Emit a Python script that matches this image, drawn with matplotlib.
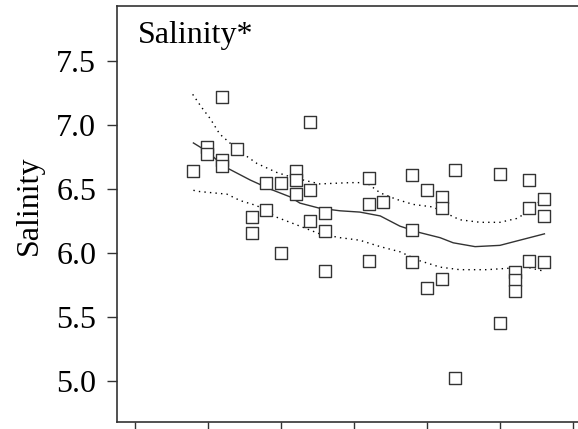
import matplotlib
matplotlib.use("Agg")
import matplotlib.pyplot as plt

# sampling position (axis units) and salinity of each sample
sample_pos = [0.80, 0.99, 0.99, 1.19, 1.19, 1.19, 1.40, 1.60, 1.60, 1.80,
              1.80, 2.00, 2.00, 2.21, 2.21, 2.21, 2.40, 2.40, 2.40, 2.60,
              2.60, 2.60, 3.21, 3.21, 3.21, 3.40, 3.80, 3.80, 3.80, 4.00,
              4.00, 4.20, 4.20, 4.20, 4.39, 4.39, 5.00, 5.00, 5.20, 5.20,
              5.20, 5.40, 5.40, 5.40, 5.61, 5.61, 5.61]
salinity = [6.64, 6.83, 6.77, 7.22, 6.73, 6.68, 6.81, 6.28, 6.16, 6.55,
            6.34, 6.55, 6.00, 6.64, 6.57, 6.46, 7.02, 6.49, 6.25, 6.31,
            6.17, 5.86, 6.59, 6.38, 5.94, 6.40, 6.61, 6.18, 5.93, 6.49,
            5.73, 6.44, 6.35, 5.80, 6.65, 5.02, 6.62, 5.45, 5.85, 5.79,
            5.70, 6.57, 6.35, 5.94, 6.42, 6.29, 5.93]

# smoothed trend and its confidence band
fit_x = [0.80, 1.00, 1.21, 1.58, 1.85, 2.12, 2.26, 2.53, 2.81, 3.08, 3.36,
         3.63, 3.90, 4.18, 4.36, 4.66, 5.00, 5.27, 5.61]
fit_y = [6.86, 6.79, 6.68, 6.57, 6.50, 6.44, 6.39, 6.35, 6.33, 6.32, 6.29,
         6.21, 6.16, 6.12, 6.08, 6.05, 6.06, 6.10, 6.15]
upper_x = [0.79, 0.91, 1.03, 1.16, 1.42, 1.67, 1.94, 2.16, 2.53, 2.95, 3.17,
           3.36, 3.58, 3.81, 4.08, 4.45, 4.73, 5.00, 5.23, 5.41, 5.62]
upper_y = [7.24, 7.14, 7.05, 6.93, 6.80, 6.70, 6.63, 6.59, 6.54, 6.55, 6.55,
           6.47, 6.42, 6.38, 6.36, 6.26, 6.24, 6.24, 6.27, 6.33, 6.45]
lower_x = [0.80, 0.89, 1.26, 1.44, 1.67, 1.94, 2.17, 2.53, 2.81, 3.08, 3.36,
           3.63, 3.90, 4.18, 4.45, 4.82, 5.09, 5.37, 5.59]
lower_y = [6.49, 6.48, 6.46, 6.41, 6.37, 6.28, 6.23, 6.15, 6.12, 6.10, 6.05,
           6.01, 5.94, 5.89, 5.87, 5.87, 5.88, 5.89, 5.86]

y_ticks = [5.0, 5.5, 6.0, 6.5, 7.0, 7.5]
x_ticks = [0, 1, 2, 3, 4, 5, 6]

plt.rcParams["font.family"] = ["Liberation Serif", "DejaVu Serif"]

fig = plt.figure(figsize=(5.78, 4.29), dpi=100)
ax = fig.add_axes([117 / 578, 7 / 429, 461 / 578, 416 / 429])

ax.plot(fit_x, fit_y, color="#333333", lw=1.0)
ax.plot(upper_x, upper_y, color="black", lw=1.0, ls=(0, (1, 3)))
ax.plot(lower_x, lower_y, color="black", lw=1.0, ls=(0, (1, 3)))
ax.scatter(sample_pos, salinity, marker="s", s=80, facecolors="white",
           edgecolors="#333333", linewidths=1.0, zorder=3)

ax.set_xlim(-0.247, 6.07)
ax.set_ylim(4.68, 7.93)
ax.set_yticks(y_ticks)
ax.set_yticklabels([f"{t:.1f}" for t in y_ticks], fontsize=23)
ax.set_xticks(x_ticks)
ax.set_xticklabels([])
ax.tick_params(axis="y", length=7, width=1.0, pad=8, color="#333333")
ax.tick_params(axis="x", length=7, width=1.0, color="#333333")

ax.spines["right"].set_visible(False)
for side in ["left", "top", "bottom"]:
    ax.spines[side].set_color("#333333")
    ax.spines[side].set_linewidth(1.2)

ax.set_ylabel("Salinity", fontsize=23)
ax.yaxis.set_label_coords(-0.158, 0.52)

ax.text(0.045, 0.965, "Salinity*", transform=ax.transAxes, fontsize=23,
        ha="left", va="top")

fig.savefig("out.png", dpi=100)
